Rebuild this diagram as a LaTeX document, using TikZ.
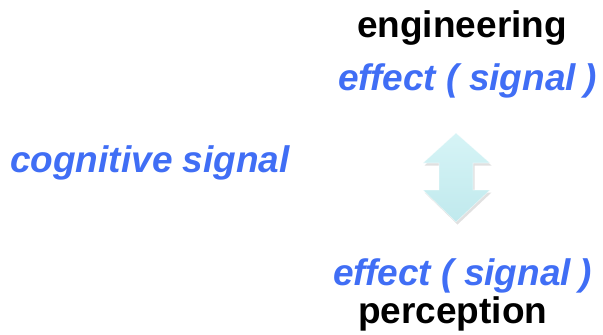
\documentclass[tikz,border=0pt]{standalone}
\usepackage{fontspec}
\setmainfont{Liberation Sans}
\definecolor{sigblue}{RGB}{64,110,245}
\definecolor{arrowtop}{RGB}{214,244,246}
\definecolor{arrowbot}{RGB}{192,233,237}
\tikzset{
  lbl/.style={anchor=base west, inner sep=0pt, font=\fontsize{37}{40}\selectfont\bfseries},
  sig/.style={lbl, text=sigblue, font=\fontsize{37}{40}\selectfont\bfseries\itshape},
}
\newcommand{\effsig}{effect ( signal\hspace{-2pt} )}
\begin{document}
\begin{tikzpicture}[x=1pt,y=-1pt]
\useasboundingbox (0,0) rectangle (603,335);
% labels
\node[lbl] (eng) at (357,37) {engineering};
\node[sig] (efftop) at (338,90) {\effsig};
\node[sig] (cog) at (10,172) {cognitive signal};
\node[sig] (effbot) at (333,285) {\effsig};
\node[lbl] (perc) at (358,323) {perception};
% double-headed block arrow between the two effects
\def\arrowpath{(456,133) -- (490,163) -- (473,163) -- (473,190) -- (490,190) -- (456,222) -- (423,190) -- (439,190) -- (439,163) -- (423,163) -- cycle}
\fill[black, opacity=0.12, xshift=1.5pt, yshift=-2.5pt] \arrowpath;
\shade[top color=arrowtop, bottom color=arrowbot] \arrowpath;
\draw[white, opacity=0.5, line width=0.6pt] \arrowpath;
\end{tikzpicture}
\end{document}
